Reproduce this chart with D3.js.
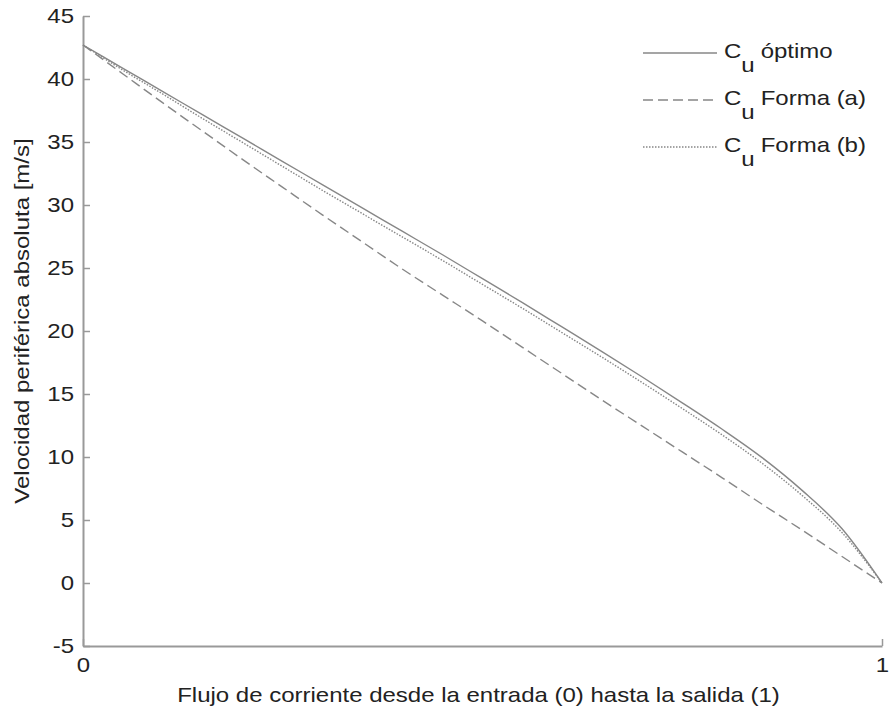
<!DOCTYPE html>
<html>
<head>
<meta charset="utf-8">
<script src="https://cdn.jsdelivr.net/npm/d3@7/dist/d3.min.js"></script>
<style>
	body { margin: 0; background: #fff; }
	text { font-family: "Liberation Sans", Arial, sans-serif; fill: #222; }
</style>
</head>
<body>
<svg id="chart" width="891" height="718"></svg>
<script>
// x: flow position from inlet (0) to outlet (1)
var flujo    = [0, 0.05, 0.1, 0.15, 0.2, 0.25, 0.3, 0.35, 0.4, 0.45, 0.5, 0.55, 0.6, 0.65, 0.7, 0.75, 0.8, 0.85, 0.9, 0.95, 1];
// peripheral absolute velocity [m/s]
var cuOptimo = [42.7, 40.85, 39.0, 37.15, 35.3, 33.45, 31.6, 29.75, 27.9, 26.05, 24.15, 22.25, 20.3, 18.35, 16.35, 14.3, 12.2, 9.95, 7.35, 4.3, 0];
var cuFormaA = [42.7, 40.4, 38.1, 35.85, 33.6, 31.4, 29.2, 27.05, 24.9, 22.85, 20.8, 18.7, 16.6, 14.5, 12.45, 10.4, 8.35, 6.25, 4.2, 2.1, 0];
var cuFormaB = [42.7, 40.7, 38.8, 36.85, 34.95, 33.05, 31.15, 29.3, 27.45, 25.6, 23.7, 21.8, 19.85, 17.9, 15.9, 13.85, 11.75, 9.5, 6.95, 4.0, 0];

var yTicks = [-5, 0, 5, 10, 15, 20, 25, 30, 35, 40, 45];
var xTicks = [0, 1];
var legendNames = ['óptimo', 'Forma (a)', 'Forma (b)'];

var svg = d3.select('#chart'),
	margin = {top: 16, right: 9, bottom: 72, left: 83},
	width = 891 - margin.left - margin.right,
	height = 718 - margin.top - margin.bottom;

// the original font is drawn wide; stretch glyphs along the text direction
var stretch = 'scale(1.2,1)',
	fontSize = '20px';

var g = svg.append('g')
	.attr('transform', 'translate(' + margin.left + ',' + margin.top + ')');

// scales
var x = d3.scaleLinear().domain([0, 1]).range([0, width]);
var y = d3.scaleLinear().domain([-5, 45]).range([height, 0]);

var series = [
	{values: cuOptimo, dash: null},
	{values: cuFormaA, dash: '10,5'},
	{values: cuFormaB, dash: '1.5,1.5'}
];

var line = d3.line()
	.x(function(d, i) { return x(flujo[i]); })
	.y(function(d) { return y(d); })
	.curve(d3.curveMonotoneX);

// axes
var axisColor = '#999';
var plain = function(d) { return String(d); };

var gx = g.append('g')
	.attr('class', 'axis axis-x')
	.attr('transform', 'translate(0,' + height + ')')
	.call(d3.axisBottom(x).tickValues(xTicks).tickSizeInner(-7).tickSizeOuter(0).tickPadding(12).tickFormat(plain));

var gy = g.append('g')
	.attr('class', 'axis axis-y')
	.call(d3.axisLeft(y).tickValues(yTicks).tickSizeInner(-7).tickSizeOuter(0).tickPadding(9).tickFormat(plain));

[gx, gy].forEach(function(a) {
	a.select('.domain').attr('stroke', axisColor).attr('stroke-width', 2);
	a.selectAll('.tick line').attr('stroke', axisColor).attr('stroke-width', 1.5);
	a.selectAll('.tick text').attr('fill', '#222').style('font-size', fontSize);
});

// move the label offset into a transform so the stretch does not scale it
gy.selectAll('.tick text')
	.attr('transform', 'translate(' + gy.select('.tick text').attr('x') + ',0) ' + stretch)
	.attr('x', 0);
gx.selectAll('.tick text')
	.attr('transform', stretch);

// lines
g.selectAll('.cu-line')
	.data(series)
	.enter().append('path')
	.attr('class', 'cu-line')
	.attr('fill', 'none')
	.attr('stroke', '#878787')
	.attr('stroke-width', 1.4)
	.attr('stroke-dasharray', function(d) { return d.dash; })
	.attr('d', function(d) { return line(d.values); });

// axis titles
svg.append('text')
	.attr('transform', 'translate(' + (margin.left + width / 2 - 4) + ',702) ' + stretch)
	.attr('text-anchor', 'middle')
	.style('font-size', fontSize)
	.text('Flujo de corriente desde la entrada (0) hasta la salida (1)');

svg.append('text')
	.attr('transform', 'translate(29,' + (margin.top + height / 2 - 10) + ') rotate(-90) ' + stretch)
	.attr('text-anchor', 'middle')
	.style('font-size', fontSize)
	.text('Velocidad periférica absoluta [m/s]');

// legend
var legend = svg.append('g')
	.attr('class', 'legend')
	.attr('transform', 'translate(643,53)');

var item = legend.selectAll('.item')
	.data(series)
	.enter().append('g')
	.attr('class', 'item')
	.attr('transform', function(d, i) { return 'translate(0,' + (i * 47) + ')'; });

item.append('line')
	.attr('x1', 0).attr('x2', 74)
	.attr('y1', 0).attr('y2', 0)
	.attr('stroke', '#878787')
	.attr('stroke-width', 1.4)
	.attr('stroke-dasharray', function(d) { return d.dash; });

var label = item.append('text')
	.attr('transform', 'translate(81,5) ' + stretch)
	.style('font-size', fontSize);

label.append('tspan').text('C');
label.append('tspan').attr('dy', 14).text('u');
label.append('tspan').attr('dy', -14).attr('dx', 5).text(function(d, i) { return legendNames[i]; });
</script>
</body>
</html>
